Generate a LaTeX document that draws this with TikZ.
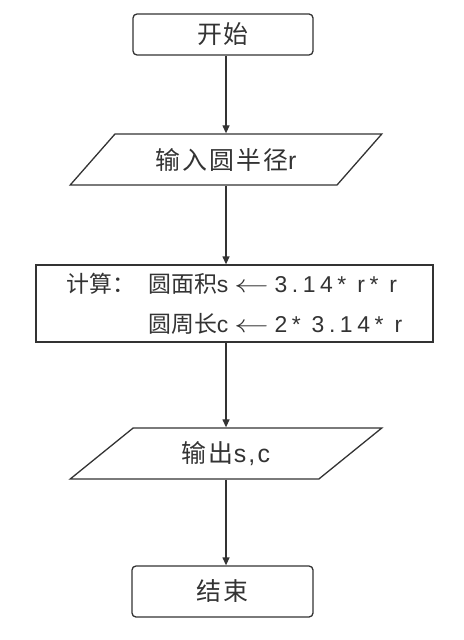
\documentclass[tikz,border=0pt]{standalone}
\usepackage{fontspec}
\usepackage{graphicx}
\setmainfont{Liberation Sans}
\newfontfamily\cjk{Noto Sans CJK SC}
\newfontfamily\wide[LetterSpace=9]{Liberation Sans}
\newfontfamily\wider[LetterSpace=20]{Liberation Sans}
\usetikzlibrary{shapes.geometric,arrows.meta}

\definecolor{ink}{HTML}{333333}

% Latin text inside the flow boxes
\newcommand\lat[1]{{\fontsize{25}{40}\wide #1}}
% Latin part of the formulas, tracked out a little
\newcommand\formula[1]{{\fontsize{23}{40}\wider #1}}
% assignment arrow, stretched a little
\newcommand\assign{\hspace{0.25em}\scalebox{1.4}[1]{$\leftarrow$}\hspace{0.25em}}
% label in front of the two assignment lines
\newcommand\calclabel{{\cjk 计算：}\hspace{0.55em}}

\tikzset{
  flowline/.style={draw=ink, line width=1.3bp},
  terminal/.style={flowline, rounded corners=4bp, inner sep=0pt,
    font=\fontsize{25}{28}\selectfont, text=ink},
  io/.style={flowline, trapezium, trapezium left angle=39,
    trapezium right angle=141, trapezium stretches=true,
    inner sep=0pt, font=\fontsize{25}{28}\selectfont, text=ink},
  process/.style={flowline, inner sep=0pt, align=left,
    font=\fontsize{23}{40}\selectfont, text=ink},
  flow/.style={flowline, -{Triangle[length=8bp,width=7bp]}}
}

\begin{document}
\begin{tikzpicture}[x=1bp,y=-1bp]
  \useasboundingbox (0,0) rectangle (464,640);

  \node[terminal, minimum width=180bp, minimum height=41bp]
    (start) at (223,34.5) {\cjk 开\hspace{2bp}始};

  \node[io, minimum width=312bp, minimum height=51bp]
    (in) at (226,159.5) {{\cjk\addfontfeature{LetterSpace=8}输入圆半径}\lat{r}};

  \node[process, minimum width=397bp, minimum height=77bp]
    (calc) at (234.5,303.5)
    {\calclabel{\cjk 圆面积}\formula{s}\assign\formula{3.14* r* r}\\
     \phantom{\calclabel}{\cjk 圆周长}\formula{c}\assign\formula{2* 3.14* r}};

  \node[io, minimum width=312bp, minimum height=51bp]
    (out) at (226,453.5) {{\cjk\addfontfeature{LetterSpace=8}输出}\lat{s,c}};

  \node[terminal, minimum width=181bp, minimum height=51bp]
    (stop) at (222.5,591.5) {\cjk 结\hspace{2bp}束};

  \draw[flow] (start.south -| in.north) -- (in.north);
  \draw[flow] (in.south) -- (in.south |- calc.north);
  \draw[flow] (calc.south -| out.north) -- (out.north);
  \draw[flow] (out.south) -- (out.south |- stop.north);
\end{tikzpicture}
\end{document}
